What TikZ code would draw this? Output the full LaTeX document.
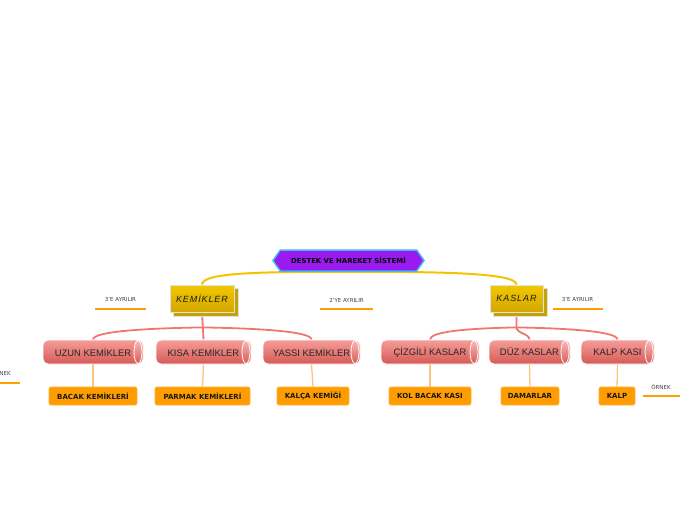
\documentclass[tikz,border=0pt]{standalone}
\usepackage{fontspec}
\setmainfont{DejaVu Sans}
\newfontfamily\arialf{Liberation Sans}
\newfontfamily\kemf{Liberation Sans}[LetterSpace=10]
\usetikzlibrary{shapes.symbols,backgrounds}
\definecolor{rootfill}{HTML}{9B1AEF}
\definecolor{rootedge}{HTML}{41B6EE}
\definecolor{yelline}{HTML}{F5C200}
\definecolor{pinkline}{HTML}{F27670}
\definecolor{cyltop}{HTML}{F59C98}
\definecolor{cylbot}{HTML}{D65A56}
\definecolor{leafor}{HTML}{FF9C00}
\definecolor{leafline}{HTML}{F9C47E}
\definecolor{ulor}{HTML}{FFA000}
\definecolor{goldtop}{HTML}{F2C800}
\definecolor{goldbot}{HTML}{D2A700}
\definecolor{golddark}{HTML}{C8A200}
\begin{document}
\begin{tikzpicture}[x=1pt,y=-1pt,
 rootbox/.style={signal, signal to=east and west, signal pointer angle=110,
   minimum width=151pt, minimum height=21pt, inner sep=0pt, fill=rootfill,
   draw=rootedge, line width=1.5pt, font=\bfseries\fontsize{6.9}{8}\selectfont, text=black},
 catbox/.style={rectangle, minimum height=27pt, inner sep=0pt,
   top color=goldtop, bottom color=goldbot, draw=black!12, line width=0.8pt,
   font=\kemf\itshape\fontsize{9}{10}\selectfont, text=black!90},
 cylbox/.style={rectangle, rounded corners=5pt, minimum height=24pt, inner sep=0pt,
   top color=cyltop, bottom color=cylbot, draw=white, line width=0.8pt,
   font=\arialf\fontsize{9.4}{11}\selectfont, text=black!85,
   path picture={\shade[top color=cyltop!70!white, bottom color=cylbot, draw=white, line width=0.8pt]
     ([xshift=-5pt]path picture bounding box.east) ellipse [x radius=4pt, y radius=11.5pt];}},
 leafbox/.style={rectangle, rounded corners=2pt, minimum height=18pt, inner sep=0pt,
   fill=leafor, draw=leafor!80!white, line width=0.6pt,
   font=\bfseries\fontsize{7}{8}\selectfont, text=black!90},
 lbl/.style={font=\fontsize{5.5}{6}\selectfont, text=black!75, inner sep=0pt},
 uline/.style={draw=ulor, line width=2.6pt},
 yel/.style={draw=yelline, line width=2pt},
 pnk/.style={draw=pinkline, line width=1.8pt},
 lfl/.style={draw=leafline, line width=1.3pt},
]
\useasboundingbox (0,0) rectangle (696,520);

\node[rootbox] (root) at (348.5,260.5) {DESTEK VE HAREKET SİSTEMİ};

\node[catbox, minimum width=64pt] (kem) at (202,298.5) {KEMİKLER};
\node[catbox, minimum width=53pt] (kas) at (516.5,298.5) {KASLAR};

\node[cylbox, minimum width=100pt] (uzun) at (93,352) {UZUN KEMİKLER};
\node[cylbox, minimum width=95pt] (kisa) at (203.5,352) {KISA KEMİKLER};
\node[cylbox, minimum width=97pt] (yassi) at (311.5,352) {YASSI KEMİKLER};
\node[cylbox, minimum width=98pt] (cizgili) at (430,352) {ÇİZGİLİ KASLAR};
\node[cylbox, minimum width=81pt] (duz) at (529.5,352) {DÜZ KASLAR};
\node[cylbox, minimum width=73pt] (kalpk) at (617.5,352) {KALP KASI};

\node[leafbox, minimum width=88pt] (bacak) at (93,396) {BACAK KEMİKLERİ};
\node[leafbox, minimum width=95pt] (parmak) at (202.5,396) {PARMAK KEMİKLERİ};
\node[leafbox, minimum width=72pt] (kalca) at (313,396) {KALÇA KEMİĞİ};
\node[leafbox, minimum width=82pt] (kol) at (430,396) {KOL BACAK KASI};
\node[leafbox, minimum width=58pt] (damar) at (530,396) {DAMARLAR};
\node[leafbox, minimum width=36pt] (kalp) at (617,396) {KALP};

\node[lbl] (l1) at (120.5,299) {3'E AYRILIR};
\node[lbl] (l2) at (346.5,300) {2'YE AYRILIR};
\node[lbl] (l3) at (577.5,299) {3'E AYRILIR};
\node[lbl] (o1) at (661,387) {ÖRNEK};
\node[lbl] (o2) at (1,373) {ÖRNEK};
\draw[uline] (95,309) -- (146,309);
\draw[uline] (320,309) -- (373,309);
\draw[uline] (553,309) -- (603,309);
\draw[uline] (643,396) -- (680,396);
\draw[uline] (-17,383) -- (20,383);

\begin{scope}[on background layer]
 \draw[yel] (root.south) .. controls +(-90,0) and +(0,-12) .. (kem.north);
 \draw[yel] (root.south) .. controls +(90,0) and +(0,-12) .. (kas.north);
 \draw[pnk] (kem.south) -- (kisa.north);
 \draw[pnk] ([yshift=-15pt]kem.south) .. controls +(-60,1) and +(0,-8) .. (uzun.north);
 \draw[pnk] ([yshift=-15pt]kem.south) .. controls +(60,1) and +(0,-8) .. (yassi.north);
 \draw[pnk] (kas.south) -- ([yshift=-15pt]kas.south) .. controls +(0,6) and +(0,-6) .. (duz.north);
 \draw[pnk] ([yshift=-15pt]kas.south) .. controls +(-50,1) and +(0,-8) .. (cizgili.north);
 \draw[pnk] ([yshift=-15pt]kas.south) .. controls +(55,1) and +(0,-8) .. (kalpk.north);
 \draw[lfl] (uzun.south) -- (bacak.north);
 \draw[lfl] (kisa.south) -- (parmak.north);
 \draw[lfl] (yassi.south) -- (kalca.north);
 \draw[lfl] (cizgili.south) -- (kol.north);
 \draw[lfl] (duz.south) -- (damar.north);
 \draw[lfl] (kalpk.south) -- (kalp.north);
 \fill[golddark, draw=black!12, line width=0.8pt] ([shift={(4pt,-4pt)}]kem.south west) rectangle ([shift={(4pt,-4pt)}]kem.north east);
 \fill[golddark, draw=black!12, line width=0.8pt] ([shift={(4pt,-4pt)}]kas.south west) rectangle ([shift={(4pt,-4pt)}]kas.north east);
\end{scope}
\end{tikzpicture}
\end{document}
